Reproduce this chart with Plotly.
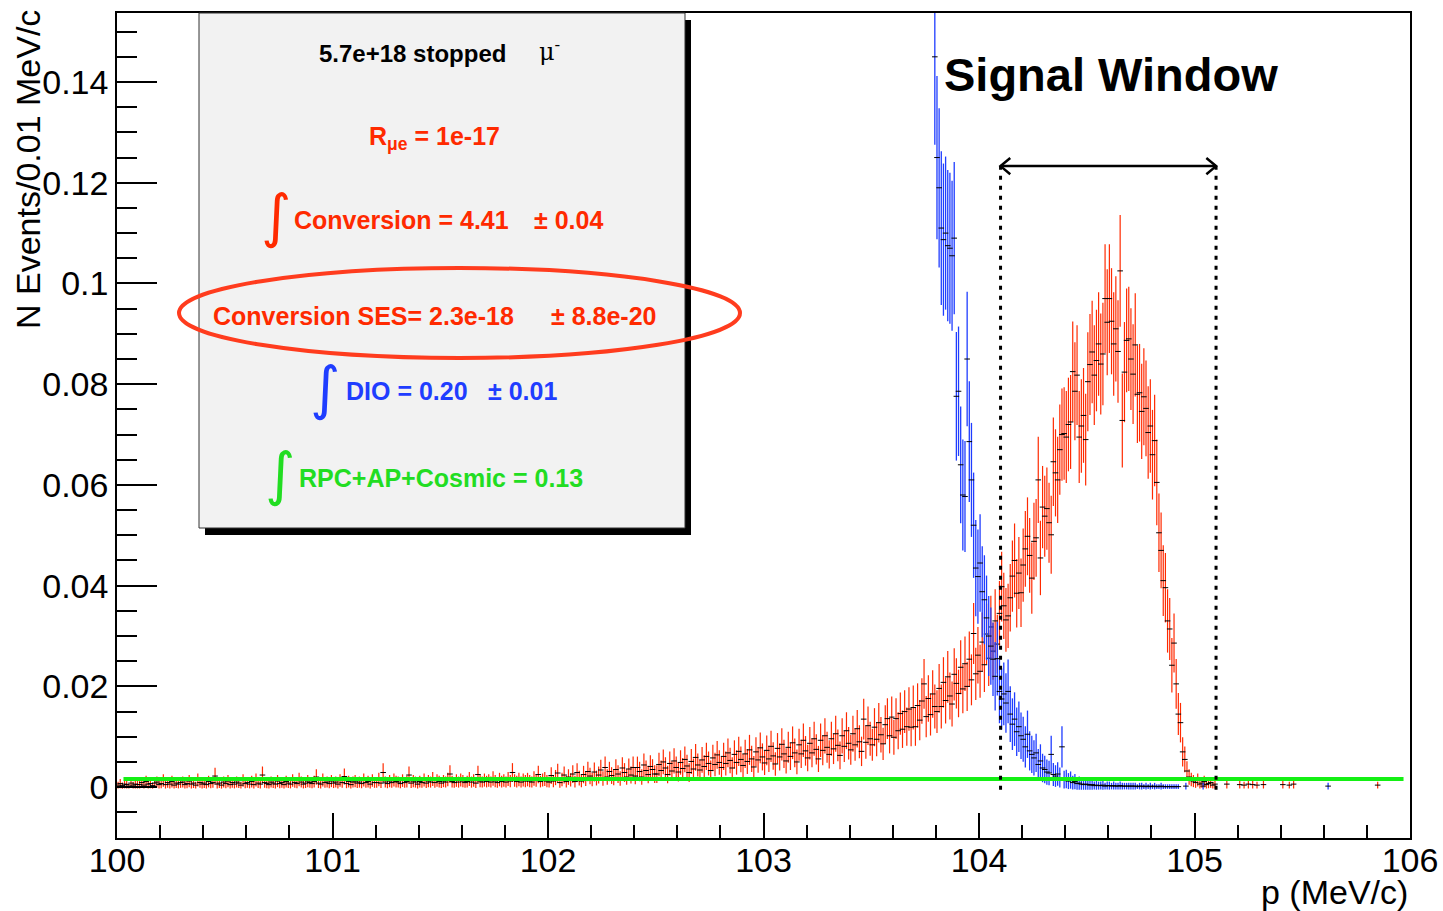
import numpy as np
import plotly.graph_objects as go

# ---------------- data (values in units of 1e-3 events / 0.01 MeV/c) ----------------
BIN = 0.01
conv_start = 100.0
conv_rows = [
    [0.4,0.7,0.3,0.6,0.5,0.2,0.8,0.4,0.6,0.5],   # 100.0
    [0.5,0.9,0.4,1.1,0.6,0.7,0.3,0.8,1.0,0.5],
    [0.7,1.3,0.5,0.9,0.6,1.1,0.4,0.8,0.6,0.9],
    [1.0,0.5,0.7,1.2,0.6,0.8,0.4,1.4,0.9,0.6],
    [0.8,0.5,1.1,0.7,0.9,2.2,0.6,0.8,0.4,1.0],
    [0.7,1.2,0.5,0.9,0.6,1.0,0.8,0.4,1.3,0.7],
    [0.9,0.6,1.1,0.5,1.4,0.8,0.6,2.4,0.9,0.7],
    [0.5,1.0,0.8,0.6,1.2,0.7,0.9,0.5,1.1,0.8],
    [0.6,1.3,0.9,0.7,1.5,1.0,0.6,0.8,1.2,0.9],
    [0.7,1.1,2.0,0.8,0.6,1.4,0.9,1.0,0.7,1.2],
    [0.8,1.0,0.6,1.3,0.9,2.1,0.7,1.1,0.5,1.0],   # 101.0
    [1.2,0.8,1.0,0.7,1.4,0.9,1.1,0.6,1.3,0.9],
    [0.9,1.5,0.8,2.9,1.0,0.7,1.2,0.9,1.4,1.1],
    [1.0,0.7,1.3,0.9,1.1,2.4,0.8,1.2,1.0,0.6],
    [1.1,0.9,1.4,0.8,1.2,1.0,1.6,0.9,1.3,1.1],
    [0.8,1.2,1.0,1.5,2.6,1.1,0.9,1.3,1.0,1.4],
    [1.2,0.9,1.1,1.6,1.0,1.3,0.8,2.5,1.2,1.0],
    [1.4,1.1,1.3,1.0,1.7,1.2,0.9,1.5,1.1,1.3],
    [1.0,1.6,1.2,2.9,1.3,1.1,1.5,1.0,1.4,1.2],
    [1.5,1.2,1.0,1.7,1.3,2.5,1.1,1.4,1.6,1.2],
    [1.0,2.3,1.2,1.9,2.8,0.9,1.5,2.4,1.1,2.0],   # 102.0
    [1.4,2.6,1.1,2.9,1.8,1.2,2.5,1.6,3.1,2.2],
    [1.5,3.0,1.8,2.4,3.4,1.7,3.9,2.0,3.1,2.3],
    [1.9,3.5,2.6,1.7,3.8,2.9,2.0,3.6,2.4,3.9],
    [2.2,3.9,3.1,2.0,4.4,3.3,2.5,4.1,3.5,2.6],
    [2.6,4.5,3.3,5.0,3.8,2.5,4.7,3.2,5.2,3.9],
    [3.0,4.9,3.7,5.5,4.2,2.9,5.1,3.6,5.9,4.4],
    [3.4,5.4,4.1,6.1,4.7,3.3,5.8,4.5,6.4,4.9],
    [3.9,6.1,4.7,6.8,5.3,3.8,6.5,4.9,7.1,5.5],
    [4.3,6.6,5.1,7.4,5.6,4.0,7.0,5.4,7.8,6.0],
    [4.8,7.3,5.6,8.1,6.2,4.6,7.7,6.0,8.5,6.6],   # 103.0
    [5.2,7.9,6.1,8.8,6.8,5.0,8.4,6.6,9.3,7.2],
    [5.8,8.7,6.8,9.6,7.5,5.6,9.3,7.3,10.2,7.9],
    [6.5,9.6,7.6,10.6,8.3,6.3,10.2,8.1,11.2,8.7],
    [7.4,10.6,8.4,11.6,9.0,7.1,13.5,8.9,12.2,9.6],
    [8.4,11.9,9.5,12.8,10.4,8.6,12.4,13.6,10.2,13.9],
    [9.9,13.6,11.2,14.6,11.5,15.0,12.0,15.5,11.9,15.8],
    [12.0,16.2,13.3,17.1,20.5,14.0,17.6,14.4,18.5,16.0],
    [15.0,19.6,16.0,20.8,17.2,21.9,18.1,16.5,22.4,20.6],
    [18.6,23.8,19.5,24.5,20.0,25.4,21.3,30.5,22.5,26.2],
    [23.0,28.8,24.3,30.4,25.6,31.8,27.0,33.0,28.4,34.5],   # 104.0
    [39.8,36.0,33.2,34.0,37.6,41.9,45.0,38.5,42.5,38.6],
    [44.1,47.3,49.8,46.0,41.5,48.8,49.5,61.0,45.5,55.6],
    [53.8,55.3,52.5,50.1,64.6,62.4,61.0,67.0,70.0,70.2],
    [69.5,72.0,72.5,82.5,78.6,81.8,69.5,71.7,73.8,69.0],
    [80.5,83.9,86.4,81.8,84.7,88.0,84.0,86.0,97.0,92.3],
    [97.0,92.5,88.0,91.0,86.5,102.5,72.8,82.4,88.7,89.0],
    [85.0,82.0,87.8,78.0,78.3,74.6,77.5,75.2,70.4,71.7],
    [66.0,68.8,60.5,50.5,47.0,41.0,39.6,33.0,31.4,24.2],
    [28.6,20.5,14.5,12.8,7.0,5.5,3.2,2.0,1.5,1.2],
    [0.9,1.4,0.6,0.8,1.1,0.5,0.7,0.9,0.4,0.6],         # 105.0
]
conv_tail_p = [105.15, 105.21, 105.23, 105.25, 105.27, 105.29, 105.32, 105.41, 105.44, 105.46, 105.85]
conv_tail_v = [0.6, 0.5, 0.4, 0.6, 0.5, 0.4, 0.5, 0.5, 0.4, 0.6, 0.4]

dio_start = 103.7
dio_rows = [
    [262,248,236,224,213,203,194,186,178,145],          # 103.7
    [125,119,111,108.7,110,107.5,107,105.5,109,77.6],
    [78.6,64,58,57.7,85,68.6,61,52,43.5,41.8],
    [44.5,38.8,37.2,33.6,30.0,28.0,25.4,22.0,25.5,19.0],  # 104.0
    [17.5,18.5,16.7,19.0,14.5,12.5,13.5,11.0,12.0,10.2],
    [9.5,8.0,10.5,7.2,6.5,5.8,6.8,4.5,5.2,3.8],
    [3.5,3.0,2.8,6.5,2.5,2.2,2.6,1.9,8.0,1.5],
    [1.6,1.2,1.4,0.9,1.1,0.7,0.8,0.6,0.5,0.6],
    [0.5,0.4,0.5,0.3,0.4,0.3,0.3,0.4,0.2,0.3],
    [0.3,0.2,0.3,0.2,0.2,0.3,0.2,0.2,0.2,0.2],
    [0.2,0.2,0.2,0.1,0.2,0.2,0.1,0.2,0.1,0.2],
    [0.1,0.2,0.1,0.1,0.2,0.1,0.1,0.1,0.1,0.1],
    [0.1,0.1,0.1],
]
dio_tail_p = [104.96, 105.04, 105.62]
dio_tail_v = [0.2, 0.2, 0.2]

bkg_level = 1.6          # RPC+AP+Cosmic (x 1e-3)
bkg_p = [100.03, 105.97]

# per-event weights used for the statistical error bars (sqrt(sum w^2))
w_conv = 0.0012
w_dio = 0.0021

signal_window = [104.1, 105.1]
arrow_level = 0.1233

x_ticks = [100, 101, 102, 103, 104, 105, 106]
x_ticklabels = ["100", "101", "102", "103", "104", "105", "106"]
y_ticks = [0, 0.02, 0.04, 0.06, 0.08, 0.1, 0.12, 0.14]
y_ticklabels = ["0", "0.02", "0.04", "0.06", "0.08", "0.1", "0.12", "0.14"]

# ---------------- build series ----------------
def hist_series(start, rows, tail_p, tail_v):
    vals = [v for r in rows for v in r]
    centers = [round(start + BIN / 2 + BIN * i, 4) for i in range(len(vals))]
    p = centers + list(tail_p)
    v = np.array(vals + list(tail_v)) * 1e-3
    return np.array(p), v

conv_p, conv_v = hist_series(conv_start, conv_rows, conv_tail_p, conv_tail_v)
dio_p, dio_v = hist_series(dio_start, dio_rows, dio_tail_p, dio_tail_v)
conv_e = np.sqrt(conv_v * w_conv)
dio_e = np.sqrt(dio_v * w_dio)

RED = "#ff2a00"
BLUE = "#1f3dff"
GREEN = "#14f014"
FONT = "Liberation Sans, Arial, Helvetica, sans-serif"

fig = go.Figure()
fig.add_trace(go.Scatter(
    x=conv_p, y=conv_v, mode="markers",
    marker=dict(symbol="line-ew", size=4, color="black", line=dict(color="black", width=1)),
    error_y=dict(type="data", array=conv_e, color=RED, thickness=1.2, width=0),
    showlegend=False, hoverinfo="x+y"))
fig.add_trace(go.Scatter(
    x=dio_p, y=dio_v, mode="markers",
    marker=dict(symbol="line-ew", size=4, color="black", line=dict(color="black", width=1)),
    error_y=dict(type="data", array=dio_e, color=BLUE, thickness=1.3, width=0),
    showlegend=False, hoverinfo="x+y"))
fig.add_trace(go.Scatter(
    x=bkg_p, y=[bkg_level * 1e-3] * len(bkg_p), mode="lines",
    line=dict(color=GREEN, width=4), showlegend=False, hoverinfo="skip"))

# ---------------- layout geometry helpers (pixels -> paper) ----------------
W, H = 1443, 911
L, R, T, B = 117, 33, 13, 73
PW, PH = W - L - R, H - T - B

def px(x, y):
    return (x - L) / PW, (H - B - y) / PH

shapes = []
# shadow + pave box
sx0, sy0 = px(205, 535)
sx1, sy1 = px(691, 20)
shapes.append(dict(type="rect", xref="paper", yref="paper", x0=sx0, y0=sy0, x1=sx1, y1=sy1,
                   fillcolor="black", line=dict(width=0), layer="above"))
bx0, by0 = px(199, 528)
bx1, by1 = px(685, 13)
shapes.append(dict(type="rect", xref="paper", yref="paper", x0=bx0, y0=by0, x1=bx1, y1=by1,
                   fillcolor="#f2f2f2", line=dict(color="#333333", width=1), layer="above"))
# signal window dotted lines
for xv in signal_window:
    shapes.append(dict(type="line", xref="x", yref="y", x0=xv, x1=xv, y0=-0.0005, y1=arrow_level,
                       line=dict(color="black", width=3, dash="4px,6px"), layer="above"))
# arrow
shapes.append(dict(type="line", xref="x", yref="y", x0=signal_window[0], x1=signal_window[1],
                   y0=arrow_level, y1=arrow_level, line=dict(color="black", width=2.5), layer="above"))
ah_dx, ah_dy = 0.045, 0.0016
shapes.append(dict(type="path", xref="x", yref="y",
                   path=f"M {signal_window[0]+ah_dx} {arrow_level+ah_dy} L {signal_window[0]} {arrow_level} L {signal_window[0]+ah_dx} {arrow_level-ah_dy}",
                   line=dict(color="black", width=2.5), layer="above"))
shapes.append(dict(type="path", xref="x", yref="y",
                   path=f"M {signal_window[1]-ah_dx} {arrow_level+ah_dy} L {signal_window[1]} {arrow_level} L {signal_window[1]-ah_dx} {arrow_level-ah_dy}",
                   line=dict(color="black", width=2.5), layer="above"))
# highlight ellipse
ex0, ey0 = px(179, 358)
ex1, ey1 = px(740, 268)
shapes.append(dict(type="circle", xref="paper", yref="paper", x0=ex0, y0=ey0, x1=ex1, y1=ey1,
                   line=dict(color="#ff3c1e", width=4), layer="above"))

annotations = []
def text(x, y, s, size=25, color="black", bold=True, xanchor="left", family=FONT, angle=0):
    ax, ay = px(x, y)
    annotations.append(dict(xref="paper", yref="paper", x=ax, y=ay, text=(f"<b>{s}</b>" if bold else s),
                            showarrow=False, xanchor=xanchor, yanchor="middle", textangle=angle,
                            font=dict(family=family, size=size, color=color)))

text(317, 54, "5.7e+18 stopped", size=24)
text(537, 50, "μ<sup>-</sup>", size=24, bold=False, family="DejaVu Serif")
text(367, 138, "R<sub>μe</sub> = 1e-17", size=25, color=RED)
text(276, 216, "∫", size=58, color=RED, bold=False, xanchor="center", family="DejaVu Sans")
text(292, 220, "Conversion = 4.41", size=25, color=RED)
text(532, 220, "± 0.04", size=25, color=RED)
text(211, 316, "Conversion SES= 2.3e-18", size=25, color=RED)
text(549, 316, "± 8.8e-20", size=25, color=RED)
text(325, 388, "∫", size=58, color=BLUE, bold=False, xanchor="center", family="DejaVu Sans")
text(344, 391, "DIO = 0.20", size=25, color=BLUE)
text(486, 391, "± 0.01", size=25, color=BLUE)
text(280, 474, "∫", size=58, color="#22dd22", bold=False, xanchor="center", family="DejaVu Sans")
text(297, 478, "RPC+AP+Cosmic = 0.13", size=25, color="#22dd22")
text(942, 74, "Signal Window", size=47)
# axis titles
text(1410, 892, "p (MeV/c)", size=34, bold=False, xanchor="right")
text(28, 170, "N Events/0.01 MeV/c", size=34, bold=False, xanchor="center", angle=-90)

fig.update_layout(
    width=W, height=H, autosize=False,
    margin=dict(l=L, r=R, t=T, b=B, pad=0, autoexpand=False),
    paper_bgcolor="white", plot_bgcolor="white",
    font=dict(family=FONT, color="black"),
    shapes=shapes, annotations=annotations,
    xaxis=dict(range=[100, 106], showgrid=False, zeroline=False, automargin=False,
               showline=True, linecolor="black", linewidth=1.5, mirror=True,
               ticks="inside", ticklen=25, tickwidth=1.5, tickcolor="black",
               tickvals=x_ticks, ticktext=x_ticklabels, ticklabelstandoff=-9,
               tickfont=dict(family=FONT, size=34, color="black"),
               minor=dict(ticks="inside", ticklen=13, dtick=0.2, tickwidth=1.5, tickcolor="black", showgrid=False)),
    yaxis=dict(range=[-0.0101, 0.1537], showgrid=False, zeroline=False, automargin=False,
               showline=True, linecolor="black", linewidth=1.5, mirror=True,
               ticks="inside", ticklen=40, tickwidth=1.5, tickcolor="black",
               tickvals=y_ticks, ticktext=y_ticklabels,
               tickfont=dict(family=FONT, size=34, color="black"),
               minor=dict(ticks="inside", ticklen=20, dtick=0.005, tick0=0, tickwidth=1.5, tickcolor="black", showgrid=False)),
)

fig.write_html("out.html", config={"displayModeBar": False},
               post_script="document.body.style.margin='0px';document.body.style.overflow='hidden';")
